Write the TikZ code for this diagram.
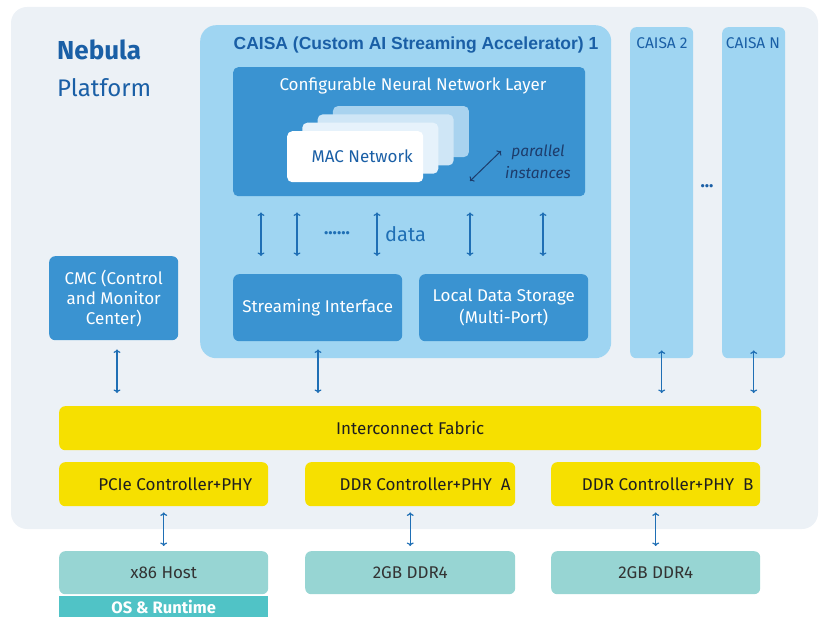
\documentclass[tikz,border=0pt]{standalone}
\usepackage{fontspec}
\setmainfont{Fira Sans}
\newfontfamily\titlefont{Liberation Sans}
\usetikzlibrary{arrows.meta}
\definecolor{bgplat}{HTML}{ECF1F6}
\definecolor{caisa}{HTML}{9FD5F2}
\definecolor{midblue}{HTML}{3A93D1}
\definecolor{darkblue}{HTML}{1A5FA6}
\definecolor{arrblue}{HTML}{1F6FB5}
\definecolor{navy}{HTML}{1D3C6B}
\definecolor{fabric}{HTML}{F6E000}
\definecolor{tealA}{HTML}{97D5D3}
\definecolor{tealB}{HTML}{50C3C6}
\definecolor{macA}{HTML}{E6F2FB}
\definecolor{macB}{HTML}{CFE6F6}
\definecolor{macC}{HTML}{A9D3EF}

\begin{document}
\begin{tikzpicture}[x=1pt,y=1pt,yscale=-1,
  blk/.style={rounded corners=6pt, inner sep=0pt, anchor=north west, align=center, font=\fontsize{17}{20}\selectfont},
  bluebox/.style={blk, fill=midblue, text=white},
  yelbox/.style={blk, fill=fabric, text=black!88},
  memb/.style={blk, fill=tealA, text=black!80},
  dbl/.style={{To[length=3.5pt,width=7pt]}-{To[length=3.5pt,width=7pt]}, draw=arrblue, line width=1.2pt}]
\useasboundingbox (0,0) rectangle (819,617);

%Shape: platform background
\fill[bgplat, rounded corners=16pt] (11,7) rectangle (818,529);

% Text Node
\node[anchor=west, inner sep=0pt, text=darkblue, font=\fontsize{26}{30}\selectfont\bfseries] (nebula) at (57,50) {Nebula};
\node[anchor=west, inner sep=0pt, text=darkblue, font=\fontsize{24}{30}\selectfont] (plat) at (57,88) {Platform};

%Shape: CAISA 1
\node[blk, rounded corners=16pt, fill=caisa, minimum width=411, minimum height=333] (caisa1) at (200,25) {};
\node[inner sep=0pt, text=darkblue, font=\titlefont\bfseries\fontsize{17.5}{20}\selectfont] (ctitle) at (416,45) {CAISA (Custom AI Streaming Accelerator) 1};

%Shape: neural network layer
\node[bluebox, rounded corners=5pt, minimum width=352, minimum height=129] (cnn) at (233,67) {};
\node[inner sep=0pt, text=white, font=\fontsize{17}{20}\selectfont] (cnnlabel) at (413,86) {Configurable Neural Network Layer};

%Shape: MAC stack
\foreach \i/\c in {3/macC,2/macB,1/macA}
  \fill[\c, rounded corners=5pt] (287+15.3*\i,131-8.3*\i) rectangle ++(136,51);
\node[blk, rounded corners=5pt, fill=white, text=darkblue, minimum width=136, minimum height=51] (mac) at (287,131) {\hspace{14pt}MAC Network};

% parallel instances
\coordinate (pa) at (470,181);
\coordinate (pb) at (501,151);
\draw[dbl, draw=navy, line width=1pt] (pa) -- (pb);
\node[inner sep=0pt, text=navy, align=center, font=\itshape\fontsize{15.5}{22}\selectfont] (par) at (538,162) {parallel\\instances};

%Shape: streaming interface and storage
\node[bluebox, minimum width=169, minimum height=67] (stream) at (233,274) {Streaming Interface};
\node[bluebox, minimum width=169, minimum height=67, font=\fontsize{17}{22}\selectfont] (store) at (419,274) {Local Data Storage\\(Multi-Port)};

% data arrows
\foreach \x/\n in {261/stream,297/stream,377/stream,470/store,543/store}
  \draw[dbl, shorten <=16pt, shorten >=18pt] (cnn.south -| \x,0) -- (\n.north -| \x,0);
\node[inner sep=0pt, text=arrblue, font=\bfseries\fontsize{18}{20}\selectfont] (dots) at (337,233) {......};
\node[anchor=west, inner sep=0pt, text=arrblue, font=\fontsize{20}{22}\selectfont] (data) at (385,234) {data};

%Shape: CMC
\node[bluebox, minimum width=129, minimum height=84] (cmc) at (49,256) {CMC (Control\\and Monitor\\Center)};

%Shape: CAISA 2 .. N
\node[blk, fill=caisa, minimum width=63, minimum height=331] (caisa2) at (630,27) {};
\node[blk, fill=caisa, minimum width=63, minimum height=331] (caisaN) at (722,27) {};
\node[inner sep=0pt, text=darkblue, font=\fontsize{15.5}{18}\selectfont] (c2label) at (662,43) {CAISA 2};
\node[inner sep=0pt, text=darkblue, font=\fontsize{15.5}{18}\selectfont] (cNlabel) at (753,43) {CAISA N};
\node[inner sep=0pt, text=darkblue, font=\bfseries\fontsize{18}{20}\selectfont] (cdots) at (707,186) {...};

%Shape: interconnect fabric
\node[yelbox, minimum width=702, minimum height=44] (fabric) at (59,406) {Interconnect Fabric};

%Shape: controllers
\node[yelbox, minimum width=209, minimum height=44] (pcie) at (59,462) {\hspace{23pt}PCIe Controller+PHY};
\node[yelbox, minimum width=210, minimum height=44] (ddrA) at (305,462) {\hspace{30pt}DDR Controller+PHY~~A};
\node[yelbox, minimum width=209, minimum height=44] (ddrB) at (551,462) {\hspace{24pt}DDR Controller+PHY~~B};

%Shape: host and memories
\node[blk, rounded corners=0pt, fill=tealB, text=white, font=\bfseries\fontsize{16.5}{20}\selectfont, minimum width=209, minimum height=21] (os) at (59,596) {OS \& Runtime};
\node[memb, minimum width=209, minimum height=43] (host) at (59,551) {x86 Host};
\node[memb, minimum width=210, minimum height=43] (memA) at (305,551) {2GB DDR4};
\node[memb, minimum width=209, minimum height=43] (memB) at (551,551) {2GB DDR4};

% Connection
\draw[dbl, shorten <=9pt, shorten >=13pt] (cmc.south -| 117,0) -- (fabric.north -| 117,0);
\draw[dbl, shorten <=8pt, shorten >=13pt] (stream.south -| 318,0) -- (fabric.north -| 318,0);
\draw[dbl, shorten <=-8pt, shorten >=13pt] (caisa2.south) -- (fabric.north -| caisa2.south);
\draw[dbl, shorten <=-8pt, shorten >=13pt] (caisaN.south) -- (fabric.north -| caisaN.south);
\foreach \a/\b in {pcie/host,ddrA/memA,ddrB/memB}
  \draw[dbl, shorten <=6pt, shorten >=5pt] (\a.south) -- (\b.north);

\end{tikzpicture}
\end{document}
